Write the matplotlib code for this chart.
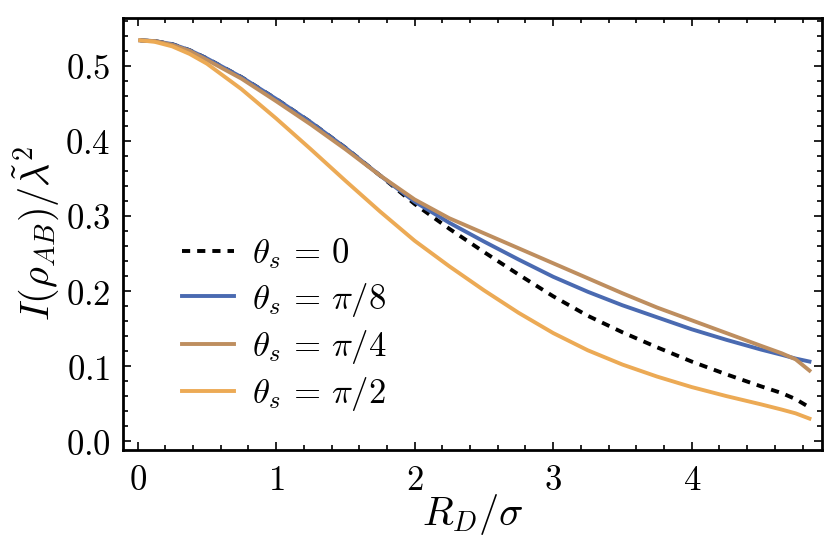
import numpy as np
import matplotlib
matplotlib.use("Agg")
import matplotlib.pyplot as plt
from matplotlib.ticker import MultipleLocator, FuncFormatter

plt.rcParams['mathtext.fontset'] = 'cm'
plt.rcParams['font.family'] = ['DejaVu Serif']

# values
rd = [0.02, 0.125, 0.25, 0.375, 0.5, 0.75, 1.0, 1.25, 1.5, 1.75, 2.0, 2.25, 2.5, 2.75,
      3.0, 3.25, 3.5, 3.75, 4.0, 4.25, 4.5, 4.65, 4.75, 4.85]

theta_0 = [0.534, 0.533, 0.529, 0.521, 0.510, 0.485, 0.456, 0.425, 0.391, 0.354, 0.316, 0.283,
           0.252, 0.222, 0.193, 0.167, 0.145, 0.125, 0.106, 0.089, 0.073, 0.064, 0.056, 0.045]
theta_pi8 = [0.534, 0.533, 0.529, 0.521, 0.510, 0.485, 0.456, 0.425, 0.391, 0.354, 0.319, 0.291,
             0.266, 0.242, 0.219, 0.199, 0.181, 0.165, 0.149, 0.135, 0.122, 0.115, 0.110, 0.106]
theta_pi4 = [0.534, 0.533, 0.528, 0.520, 0.508, 0.483, 0.453, 0.422, 0.389, 0.354, 0.322, 0.297,
             0.277, 0.257, 0.237, 0.217, 0.197, 0.178, 0.161, 0.144, 0.127, 0.117, 0.109, 0.094]
theta_pi2 = [0.534, 0.532, 0.526, 0.516, 0.503, 0.469, 0.430, 0.389, 0.347, 0.306, 0.267, 0.233,
             0.201, 0.171, 0.144, 0.121, 0.102, 0.086, 0.072, 0.060, 0.049, 0.042, 0.037, 0.030]

labels = [r'$\theta_s\,=\,0$', r'$\theta_s\,=\,\pi/8$', r'$\theta_s\,=\,\pi/4$', r'$\theta_s\,=\,\pi/2$']
colors = ['black', '#4a6ab1', '#be8e5f', '#ecaa55']

fig = plt.figure(figsize=(8.38, 5.41), dpi=100)
ax = fig.add_axes([0.1468, 0.168, 0.834, 0.799])

lw = 2.8
ax.plot(rd, theta_0, color=colors[0], lw=lw, dashes=(2.1, 1.8), label=labels[0], zorder=2)
ax.plot(rd, theta_pi8, color=colors[1], lw=lw, label=labels[1], zorder=3)
ax.plot(rd, theta_pi4, color=colors[2], lw=lw, label=labels[2], zorder=4)
ax.plot(rd, theta_pi2, color=colors[3], lw=lw, label=labels[3], zorder=5)

ax.set_xlim(-0.105, 4.94)
ax.set_ylim(-0.012, 0.564)

ax.xaxis.set_major_locator(MultipleLocator(1))
ax.xaxis.set_minor_locator(MultipleLocator(0.2))
ax.yaxis.set_major_locator(MultipleLocator(0.1))
ax.yaxis.set_minor_locator(MultipleLocator(0.02))
ax.xaxis.set_major_formatter(FuncFormatter(lambda v, p: r'$%d$' % round(v)))
ax.yaxis.set_major_formatter(FuncFormatter(lambda v, p: r'$%.1f$' % v))

ax.tick_params(which='both', direction='in', top=True, right=True, labelsize=25, width=1.2)
ax.tick_params(which='major', length=6, pad=9)
ax.tick_params(which='minor', length=3.5)
for s in ax.spines.values():
    s.set_linewidth(2.0)

ax.set_xlabel(r'$R_D/\sigma$', fontsize=29, labelpad=-3)
ax.set_ylabel(r'$I(\rho_{AB})/\tilde{\lambda}^2$', fontsize=29, labelpad=3)

ax.legend(loc='lower left', bbox_to_anchor=(0.06, 0.045), frameon=False, fontsize=25,
          handlelength=1.5, handletextpad=0.5, labelspacing=0.27, borderpad=0)

fig.savefig('out.png', dpi=100)
